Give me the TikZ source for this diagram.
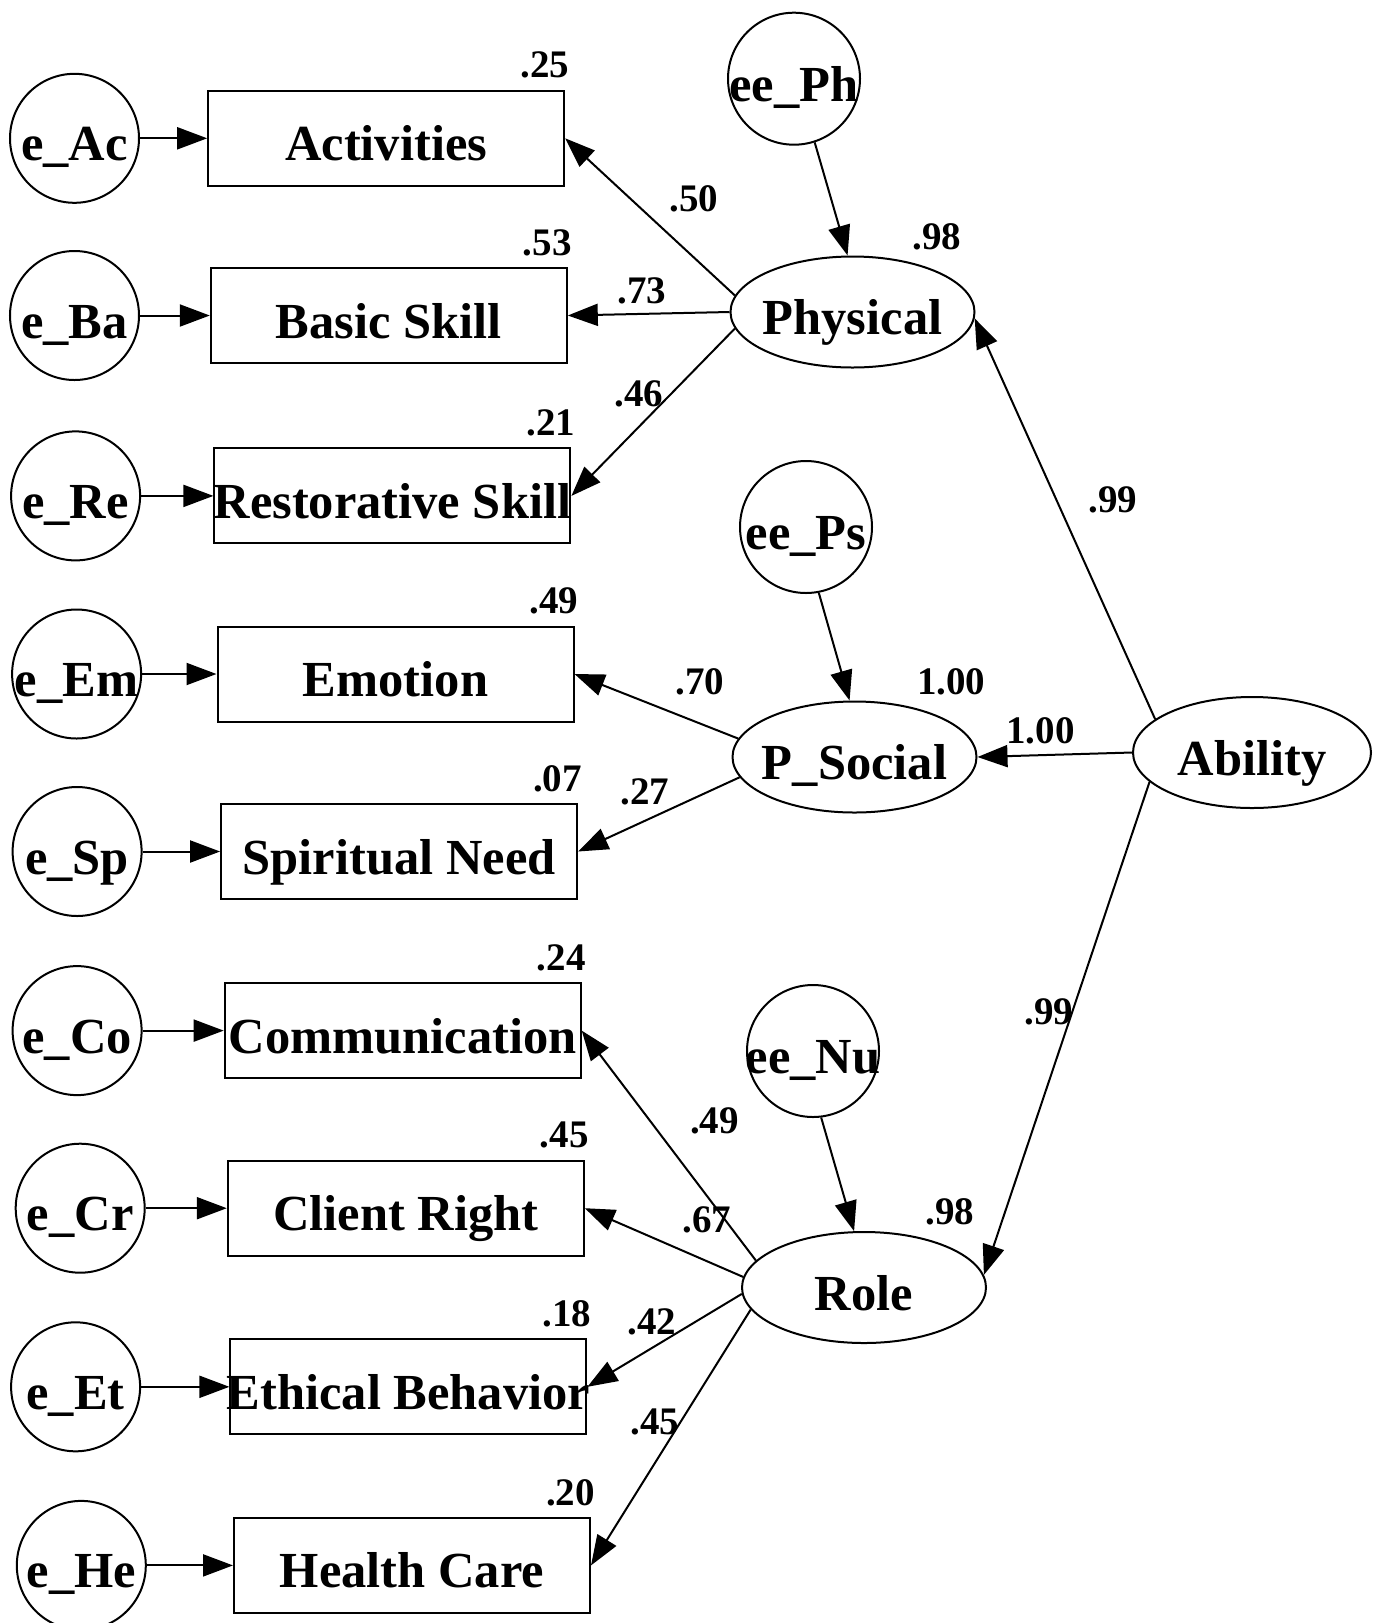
\documentclass[tikz,border=0pt]{standalone}
\usepackage{fontspec}
\setmainfont{Liberation Serif}
\usetikzlibrary{shapes.geometric,arrows.meta}
\begin{document}
\begin{tikzpicture}[x=1pt,y=-1pt,
  base/.style={line width=2pt, font=\bfseries\fontsize{50.5}{60}\selectfont, text height=45pt, text depth=0pt, inner sep=0pt},
  obs/.style={base, draw, rectangle, minimum width=356pt, minimum height=95pt},
  err/.style={base, draw, circle, minimum size=129pt},
  lat/.style={base, draw, ellipse, minimum width=244pt, minimum height=111pt},
  lbl/.style={font=\bfseries\fontsize{39}{45}\selectfont, inner sep=0pt},
  arr/.style={line width=2pt, -{Triangle[length=30pt,width=22pt]}}]
\useasboundingbox (0,0) rectangle (1379,1623);
\fill[white] (0,0) rectangle (1379,1623);
% observed
\node[obs] (Ac) at (386.2,138.3) {\makebox[0pt]{Activities}};
\node[obs] (Ba) at (388.8,315.5) {\makebox[0pt]{Basic Skill}};
\node[obs] (Re) at (392.4,495.9) {\makebox[0pt]{Restorative Skill}};
\node[obs] (Em) at (395.5,674) {\makebox[0pt]{Emotion}};
\node[obs] (Sp) at (399.1,851.5) {\makebox[0pt]{Spiritual Need}};
\node[obs] (Co) at (402.7,1030.6) {\makebox[0pt]{Communication}};
\node[obs] (Cr) at (405.8,1208.2) {\makebox[0pt]{Client Right}};
\node[obs] (Et) at (408.4,1386.8) {\makebox[0pt]{Ethical Behavior}};
\node[obs] (He) at (412,1565.4) {\makebox[0pt]{Health Care}};
% errors
\node[err] (eAc) at (74.5,138.3) {\makebox[0pt]{e\_Ac}};
\node[err] (eBa) at (74.5,315.5) {\makebox[0pt]{e\_Ba}};
\node[err] (eRe) at (75.6,495.9) {\makebox[0pt]{e\_Re}};
\node[err] (eEm) at (76.6,674) {\makebox[0pt]{e\_Em}};
\node[err] (eSp) at (77.1,851.5) {\makebox[0pt]{e\_Sp}};
\node[err] (eCo) at (77.1,1030.6) {\makebox[0pt]{e\_Co}};
\node[err] (eCr) at (80.2,1208.2) {\makebox[0pt]{e\_Cr}};
\node[err] (eEt) at (75.6,1386.8) {\makebox[0pt]{e\_Et}};
\node[err] (eHe) at (81.3,1565.4) {\makebox[0pt]{e\_He}};
% latents
\node[err, minimum size=132pt] (eePh) at (794,78.7) {\makebox[0pt]{ee\_Ph}};
\node[err, minimum size=132pt] (eePs) at (806,527) {\makebox[0pt]{ee\_Ps}};
\node[err, minimum size=132pt] (eeNu) at (813,1051) {\makebox[0pt]{ee\_Nu}};
\node[lat] (Ph) at (852.5,312) {\makebox[0pt]{Physical}};
\node[lat] (Ps) at (854.5,757) {\makebox[0pt]{P\_Social}};
\node[lat] (Ro) at (864,1287.5) {\makebox[0pt]{Role}};
\node[lat, minimum width=238pt] (Ab) at (1252,752.5) {\makebox[0pt]{Ability}};
% error arrows
\foreach \e/\o in {eAc/Ac,eBa/Ba,eRe/Re,eEm/Em,eSp/Sp,eCo/Co,eCr/Cr,eEt/Et,eHe/He}
  \draw[arr] (\e) -- (\o);
% loadings
\draw[arr] (Ph.172) -- (Ac.east);
\draw[arr] (Ph.180) -- (Ba.east);
\draw[arr] (Ph.188) -- (Re.east);
\draw[arr] (Ps.171) -- (Em.east);
\draw[arr] (Ps.190) -- (Sp.east);
\draw[arr] (Ro.166) -- (Co.east);
\draw[arr] (Ro.175) -- (Cr.east);
\draw[arr] (Ro.183) -- (Et.east);
\draw[arr] (Ro.191) -- (He.east);
% disturbances
\draw[arr] (eePh.288) -- (Ph.95);
\draw[arr] (eePs.281) -- (Ps.95);
\draw[arr] (eeNu.277) -- (Ro.100);
% second order
\draw[arr] (Ab.161) -- (Ph.357);
\draw[arr] (Ab.180) -- (Ps.0);
\draw[arr] (Ab.196) -- (Ro.6);
% R-squared labels
\foreach \o/\v in {Ac/.25,Ba/.53,Re/.21,Em/.49,Sp/.07,Co/.24,Cr/.45,Et/.18,He/.20}
  \node[lbl, anchor=east] at ([shift={(4,-24.5)}]\o.north east) {\v};
\node[lbl] (rPh) at (936.7,237.3) {.98};
\node[lbl] (rPs) at (951.3,681.7) {1.00};
\node[lbl] (rRo) at (950,1211.7) {.98};
% path coefficients
\node[lbl] (l1) at (693.7,198.8) {.50};
\node[lbl] (l2) at (641.9,290.9) {.73};
\node[lbl] (l3) at (638.8,393.4) {.46};
\node[lbl] (l4) at (700,681.7) {.70};
\node[lbl] (l5) at (645,791.7) {.27};
\node[lbl] (l6) at (714.4,1121.2) {.49};
\node[lbl] (l7) at (706.7,1220) {.67};
\node[lbl] (l8) at (651.7,1321.7) {.42};
\node[lbl] (l9) at (655,1421.7) {.45};
\node[lbl] (l10) at (1113,500) {.99};
\node[lbl] (l11) at (1040.5,730.9) {1.00};
\node[lbl] (l12) at (1048.8,1012) {.99};
\end{tikzpicture}
\end{document}
